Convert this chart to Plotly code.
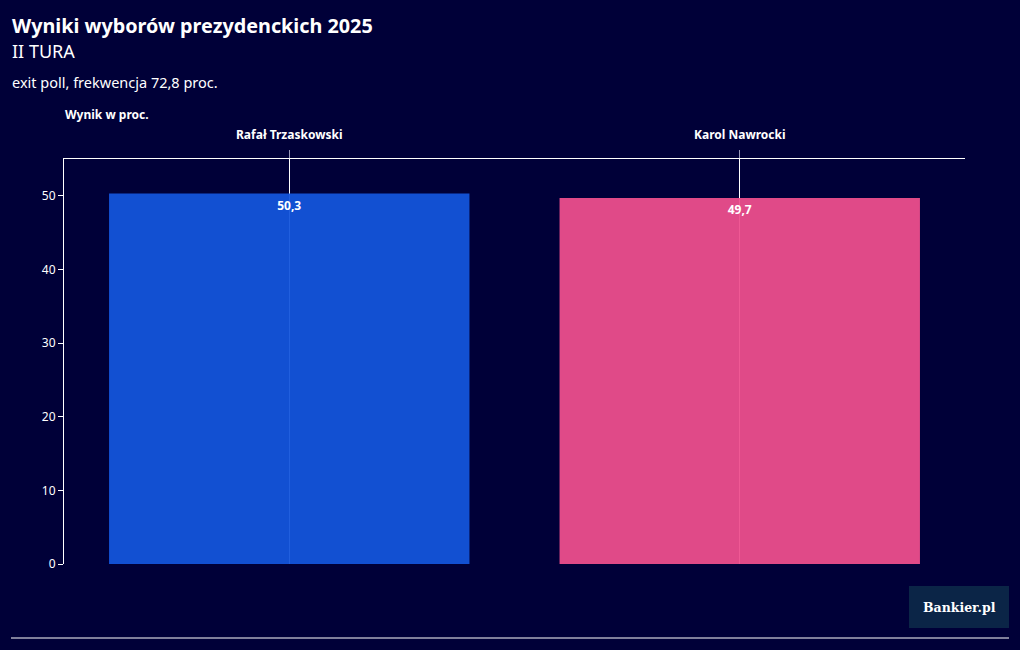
import plotly.graph_objects as go

candidates = ["Rafał Trzaskowski", "Karol Nawrocki"]
results = [50.3, 49.7]
bar_colors = ["#1355dc", "#ee4f8d"]
y_ticks = [0, 10, 20, 30, 40, 50]

BG = "#000038"
W, H = 1020, 650
L, R, T, B = 64, 55, 159, 86
PW, PH = W - L - R, H - T - B

def px(x):
    return (x - L) / PW

def py(y):
    return (H - B - y) / PH

FONT = "Noto Sans"

fig = go.Figure()
fig.add_trace(go.Bar(
    x=candidates, y=results,
    marker=dict(color=bar_colors, opacity=0.94, line=dict(width=0)),
    width=0.8,
    text=[f"{v:.1f}".replace(".", ",") for v in results],
    textposition="inside", insidetextanchor="end",
    textfont=dict(family=FONT, size=12, color="white", weight="bold"),
    cliponaxis=False, hoverinfo="skip",
))

fig.update_layout(
    width=W, height=H,
    margin=dict(l=L, r=R, t=T, b=B),
    paper_bgcolor=BG, plot_bgcolor=BG,
    showlegend=False,
    bargap=0.2,
    separators=",.",
    font=dict(family=FONT, color="white", size=12),
    xaxis=dict(
        side="top", showline=True, linecolor="white", linewidth=1,
        showgrid=True, gridcolor="white", gridwidth=1,
        ticks="outside", ticklen=8, tickcolor="#9a9ab8", tickwidth=1,
        tickfont=dict(family=FONT, size=12, color="white", weight="bold"),
        ticklabelstandoff=6, zeroline=False, fixedrange=True,
    ),
    yaxis=dict(
        range=[0, 55], tickvals=y_ticks, showline=True, linecolor="white",
        linewidth=1, showgrid=False, zeroline=False,
        ticks="outside", ticklen=5, tickcolor="white",
        tickfont=dict(family=FONT, size=12, color="white"),
        fixedrange=True,
    ),
)

ann = [
    dict(text="<b>Wyniki wyborów prezydenckich 2025</b>", x=px(10), y=py(25), size=19.8),
    dict(text="II TURA", x=px(10), y=py(51), size=18),
    dict(text="exit poll, frekwencja 72,8 proc.", x=px(10), y=py(82), size=14.5),
    dict(text="<b>Wynik w proc.</b>", x=px(63), y=py(115), size=12),
]
for a in ann:
    fig.add_annotation(text=a["text"], x=a["x"], y=a["y"], xref="paper", yref="paper",
                       xanchor="left", yanchor="middle", showarrow=False,
                       font=dict(family=FONT, size=a["size"], color="white"))

# bottom rule
fig.add_shape(type="line", xref="paper", yref="paper", x0=px(11), x1=px(1009),
              y0=py(638), y1=py(638), line=dict(color="white", width=1))
# logo box
fig.add_shape(type="rect", xref="paper", yref="paper", x0=px(909), x1=px(1009),
              y0=py(628), y1=py(586), fillcolor="#0b2547", line=dict(width=0))
fig.add_annotation(text="<b>Bankier.pl</b>", x=px(959), y=py(607), xref="paper", yref="paper",
                   showarrow=False, xanchor="center", yanchor="middle",
                   font=dict(family="DejaVu Serif", size=12.5, color="white"))

fig.write_html("out.html")
